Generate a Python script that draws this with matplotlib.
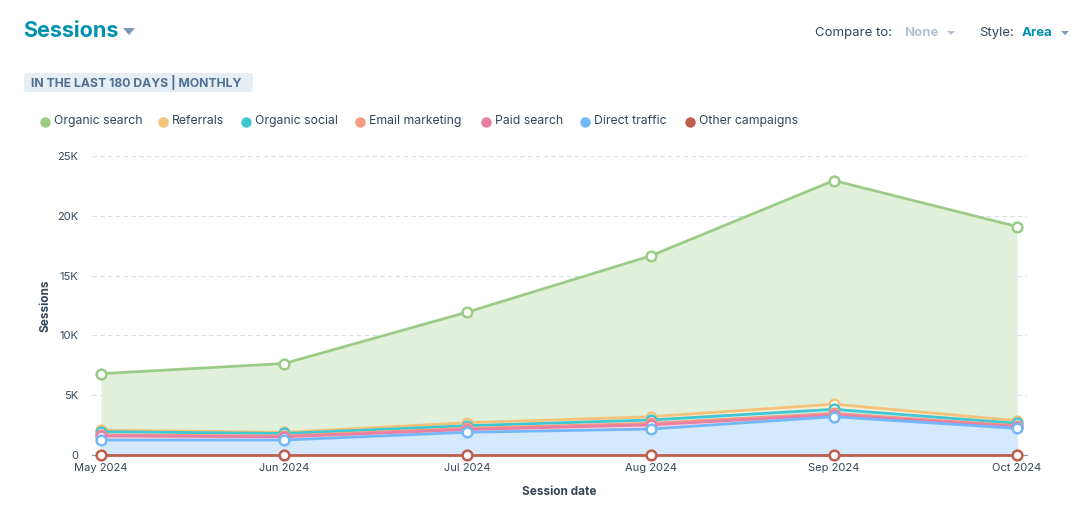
import matplotlib
matplotlib.use('Agg')
import matplotlib.pyplot as plt
from matplotlib.lines import Line2D
from matplotlib.patches import FancyBboxPatch, Polygon
import matplotlib.colors as mcolors
import numpy as np

plt.rcParams['font.family'] = ['Inter', 'DejaVu Sans']

# data (sessions per month)
months = ['May 2024', 'Jun 2024', 'Jul 2024', 'Aug 2024', 'Sep 2024', 'Oct 2024']
organic_search = [6800, 7650, 11950, 16650, 22950, 19100]
referrals = [2080, 1900, 2700, 3200, 4250, 2870]
organic_social = [1950, 1800, 2450, 2930, 3820, 2650]
email_marketing = [1680, 1590, 2230, 2650, 3480, 2450]
paid_search = [1600, 1520, 2130, 2520, 3360, 2380]
direct_traffic = [1250, 1250, 1900, 2170, 3200, 2230]
other_campaigns = [40, 40, 40, 40, 40, 40]

series_names = ['Organic search', 'Referrals', 'Organic social', 'Email marketing',
                'Paid search', 'Direct traffic', 'Other campaigns']
series_values = [organic_search, referrals, organic_social, email_marketing,
                 paid_search, direct_traffic, other_campaigns]
series_colors = ['#9bcc87', '#f5c27a', '#3fc8d2', '#f99b80', '#e97fa2', '#72b7f8', '#c05e4d']

W, H = 1084, 519
fig = plt.figure(figsize=(W / 100, H / 100), dpi=100)


def px(x, y):
    return x / W, 1 - y / H


def tint(c, a):
    r, g, b = mcolors.to_rgb(c)
    return (1 - a + a * r, 1 - a + a * g, 1 - a + a * b)


left, right = px(92, 0)[0], px(1027, 0)[0]
bottom, top = px(0, 455)[1], px(0, 156)[1]
ax = fig.add_axes([left, bottom, right - left, top - bottom])

x = np.arange(len(months))
for i, (name, vals, col) in enumerate(zip(series_names, series_values, series_colors)):
    ax.fill_between(x, 0, vals, color=tint(col, 0.3), lw=0, zorder=1 + i * 0.01)
for i, (name, vals, col) in enumerate(zip(series_names, series_values, series_colors)):
    ax.plot(x, vals, color=col, lw=2, marker='o', ms=7, mfc='white', mec=col, mew=1.8,
            zorder=5 + i * 0.1, clip_on=False)

ax.set_xlim(-9 / 183.2, 5 + 10 / 183.2)
ax.set_ylim(0, 25000)
ax.set_xticks(x)
ax.set_xticklabels(months)
ax.set_yticks([0, 5000, 10000, 15000, 20000, 25000])
ax.set_yticklabels(['0', '5K', '10K', '15K', '20K', '25K'])
ax.grid(axis='y', color='#d5dee8', ls=(0, (4, 3)), lw=0.8)
ax.set_axisbelow(True)
for s in ['top', 'right', 'left']:
    ax.spines[s].set_visible(False)
ax.spines['bottom'].set_color('#7c98b6')
ax.spines['bottom'].set_zorder(4)
ax.tick_params(axis='x', length=0, pad=6, labelsize=8, labelcolor='#33475b')
ax.tick_params(axis='y', length=0, pad=10, labelsize=8, labelcolor='#33475b')
ax.set_xlabel('Session date', fontsize=8.5, fontweight='bold', color='#33475b', labelpad=9)
ax.set_ylabel('Sessions', fontsize=8.5, fontweight='bold', color='#33475b', labelpad=4)

# header
fig.text(*px(23, 31), 'Sessions', fontsize=15.5, fontweight='bold', color='#0091ae', va='center')
fig.add_artist(Polygon([px(123, 28), px(135, 28), px(129, 35)], closed=True,
                       transform=fig.transFigure, color='#7c98b6', lw=0))

badge = FancyBboxPatch(px(24, 92), (253 - 24) / W, 19 / H, boxstyle='round,pad=0,rounding_size=0.004',
                       transform=fig.transFigure, fc='#e5edf5', ec='none')
fig.add_artist(badge)
fig.text(*px(31, 82), 'IN THE LAST 180 DAYS | MONTHLY', fontsize=8.8, fontweight='bold',
         color='#516f90', va='center')

fig.text(*px(815, 33), 'Compare to:', fontsize=9.5, color='#33475b', va='center')
fig.text(*px(904, 33), 'None', fontsize=9.5, fontweight='bold', color='#b0c1d4', va='center')
fig.add_artist(Polygon([px(947, 31), px(955, 31), px(951, 35)], closed=True,
                       transform=fig.transFigure, color='#b0c1d4', lw=0))
fig.text(*px(979, 33), 'Style:', fontsize=9.5, color='#33475b', va='center')
fig.text(*px(1022, 33), 'Area', fontsize=9.5, fontweight='bold', color='#0091ae', va='center')
fig.add_artist(Polygon([px(1061, 31), px(1069, 31), px(1065, 35)], closed=True,
                       transform=fig.transFigure, color='#7c98b6', lw=0))

# legend
legend_x = [45, 163, 246, 360, 486, 585, 690]
for lx, name, col in zip(legend_x, series_names, series_colors):
    fig.add_artist(Line2D([px(lx, 121)[0]], [px(lx, 122)[1]], marker='o', ms=6.5, color=col,
                          lw=0, transform=fig.transFigure))
    fig.text(*px(lx + 9, 121), name, fontsize=8.8, color='#33475b', va='center')

fig.savefig('out.png', dpi=100)
